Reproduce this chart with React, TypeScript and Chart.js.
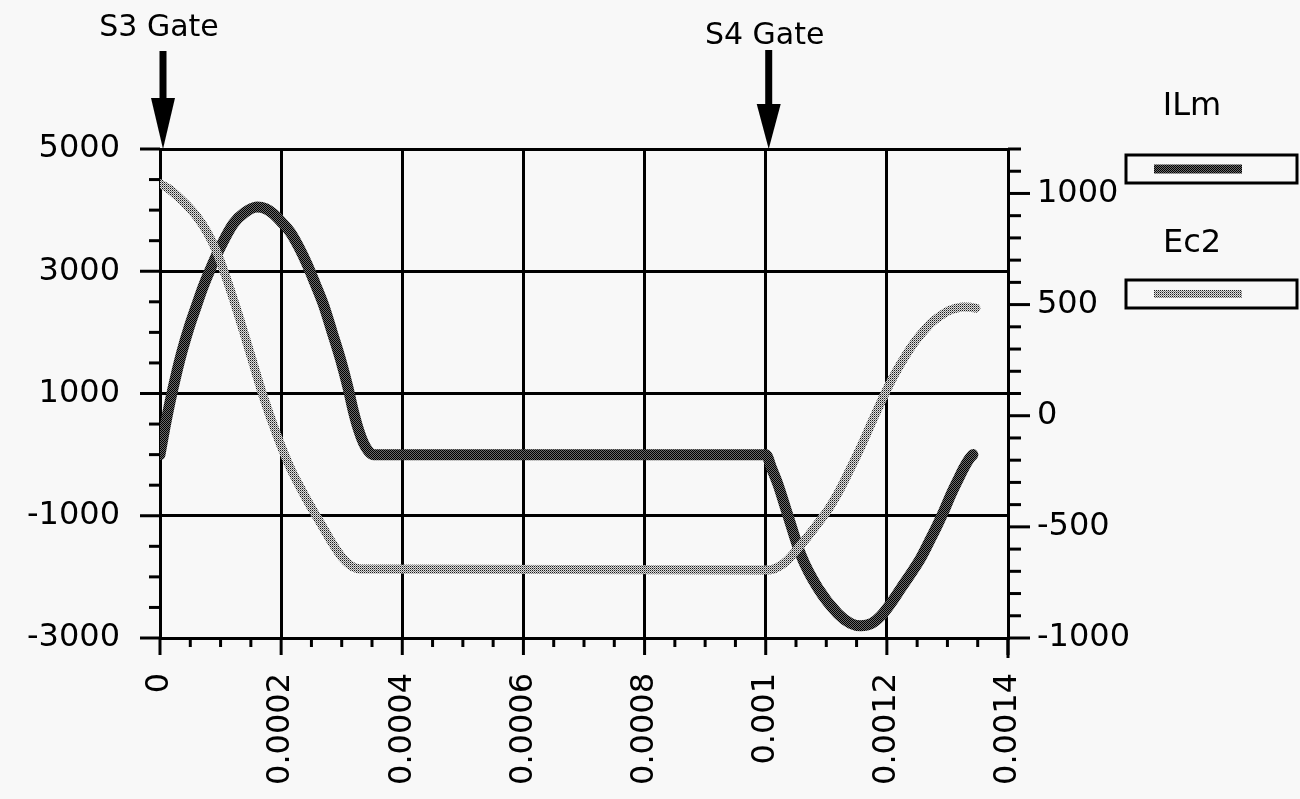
import React, { useEffect, useRef } from "react";
import { Chart, registerables } from "chart.js";

Chart.register(...registerables);

const FONT = '"DejaVu Sans", "Liberation Sans", sans-serif';

// ILm (left axis) — time in microseconds
const ilmTimeUs = [0, 8, 16.5, 27, 36, 48, 60, 71, 83, 100, 121, 140, 160, 175, 187, 200, 215, 230, 243, 256, 270, 284, 298, 310, 319, 328, 336, 344, 352, 1000, 1010, 1020, 1036, 1058, 1086, 1119, 1140, 1157, 1175, 1190, 1206, 1223, 1240, 1256, 1270, 1284, 1296, 1306, 1318, 1327, 1336, 1342];
const ilmValues = [0, 440, 860, 1320, 1675, 2080, 2430, 2740, 3030, 3400, 3777, 3960, 4050, 4020, 3940, 3810, 3640, 3380, 3110, 2800, 2450, 2010, 1560, 1110, 720, 400, 190, 60, 0, 0, -230, -480, -975, -1640, -2180, -2600, -2760, -2800, -2760, -2640, -2440, -2190, -1940, -1690, -1420, -1140, -880, -650, -400, -220, -70, 0];

// Ec2 (right axis) — time in microseconds
const ec2TimeUs = [0, 15, 30, 45, 61, 78, 94, 112, 131, 150, 169, 192, 215, 231, 246, 260, 274, 286, 300, 314, 323, 331, 1003, 1013, 1024, 1036, 1052, 1069, 1086, 1103, 1120, 1136, 1157, 1175, 1190, 1204, 1218, 1232, 1245, 1259, 1273, 1287, 1301, 1315, 1327, 1338, 1347];
const ec2Values = [1044, 1020, 985, 945, 895, 825, 735, 600, 440, 270, 100, -80, -234, -320, -395, -460, -525, -580, -635, -672, -685, -690, -694, -690, -675, -650, -600, -545, -485, -423, -345, -259, -140, -30, 60, 140, 211, 275, 328, 375, 417, 447, 471, 484, 489, 488, 484];

const seriesNames = ["ILm", "Ec2"];

const xTickValues = [0, 0.0002, 0.0004, 0.0006, 0.0008, 0.001, 0.0012, 0.0014];
const xTickLabels = ["0", "0.0002", "0.0004", "0.0006", "0.0008", "0.001", "0.0012", "0.0014"];
const leftTickValues = [-3000, -1000, 1000, 3000, 5000];
const leftTickLabels = ["-3000", "-1000", "1000", "3000", "5000"];
const rightTickValues = [-1000, -500, 0, 500, 1000];
const rightTickLabels = ["-1000", "-500", "0", "500", "1000"];

const gateNames = ["S3 Gate", "S4 Gate"];
const gateTimes = [0, 0.001];

function makePattern(ctx: CanvasRenderingContext2D, a: string, b: string, c: string, d: string) {
  const cv = document.createElement("canvas");
  cv.width = 2;
  cv.height = 2;
  const g = cv.getContext("2d")!;
  g.fillStyle = a; g.fillRect(0, 0, 1, 1);
  g.fillStyle = b; g.fillRect(1, 0, 1, 1);
  g.fillStyle = c; g.fillRect(0, 1, 1, 1);
  g.fillStyle = d; g.fillRect(1, 1, 1, 1);
  return ctx.createPattern(cv, "repeat")!;
}

const decorPlugin = {
  id: "decor",
  afterDraw(chart: any) {
    const { ctx, chartArea: ca, scales } = chart;
    const x = scales.x, yl = scales.y, yr = scales.y1;
    const line = (x1: number, y1: number, x2: number, y2: number) => {
      ctx.beginPath(); ctx.moveTo(x1, y1); ctx.lineTo(x2, y2); ctx.stroke();
    };
    ctx.save();
    ctx.strokeStyle = "#000";
    ctx.fillStyle = "#000";
    ctx.lineWidth = 3;
    ctx.lineCap = "butt";
    // x ticks
    for (let i = 0; i <= 28; i++) {
      const px = x.getPixelForValue(i * 0.00005);
      line(px, ca.bottom, px, ca.bottom + (i % 4 === 0 ? 17 : 9));
    }
    // left ticks
    for (let i = 0; i <= 16; i++) {
      const py = yl.getPixelForValue(-3000 + i * 500);
      line(ca.left - (i % 4 === 0 ? 20 : 11), py, ca.left, py);
    }
    // right ticks
    for (let i = 0; i <= 22; i++) {
      const py = yr.getPixelForValue(-1000 + i * 100);
      line(ca.right, py, ca.right + (i % 5 === 0 ? 22 : 13), py);
    }
    line(ca.right, ca.bottom, ca.right, ca.bottom + 20);

    // gate arrows
    const shaftTop = [51, 50];
    const headTop = [98, 104];
    const labelY = [28, 36];
    ctx.font = `30px ${FONT}`;
    ctx.textAlign = "center";
    ctx.textBaseline = "middle";
    gateTimes.forEach((t, i) => {
      const px = x.getPixelForValue(t) + 3;
      ctx.fillRect(px - 3.5, shaftTop[i], 7, headTop[i] - shaftTop[i] + 1);
      ctx.beginPath();
      ctx.moveTo(px - 12, headTop[i]);
      ctx.lineTo(px + 12, headTop[i]);
      ctx.lineTo(px, ca.top);
      ctx.closePath();
      ctx.fill();
      ctx.fillText(gateNames[i], px - 4, labelY[i]);
    });

    // legend
    const boxY = [155, 280];
    const textY = [107, 244];
    ctx.font = `32px ${FONT}`;
    chart.data.datasets.forEach((ds: any, i: number) => {
      ctx.fillStyle = "#000";
      ctx.fillText(ds.label, 1192, textY[i]);
      ctx.lineWidth = 3;
      ctx.strokeStyle = "#000";
      ctx.strokeRect(1126, boxY[i], 171, 28);
      ctx.strokeStyle = ds.borderColor;
      ctx.lineWidth = i === 0 ? 9 : 8;
      line(1154, boxY[i] + 14, 1242, boxY[i] + 14);
    });
    ctx.restore();
  },
};

export default function App() {
  const ref = useRef<HTMLCanvasElement>(null);
  useEffect(() => {
    const canvas = ref.current!;
    const ctx = canvas.getContext("2d")!;
    const patIlm = makePattern(ctx, "#000", "#6a6a6a", "#6a6a6a", "#000");
    const patEc2 = makePattern(ctx, "#1a1a1a", "#dddddd", "#dddddd", "#808080");
    const chart = new Chart(canvas, {
      type: "line",
      data: {
        datasets: [
          {
            label: seriesNames[0],
            data: ilmTimeUs.map((t, i) => ({ x: t * 1e-6, y: ilmValues[i] })),
            yAxisID: "y",
            borderColor: patIlm as any,
            borderWidth: 11,
            pointRadius: 0,
            cubicInterpolationMode: "monotone",
            borderCapStyle: "round",
            borderJoinStyle: "round",
            fill: false,
            order: 1,
          },
          {
            label: seriesNames[1],
            data: ec2TimeUs.map((t, i) => ({ x: t * 1e-6, y: ec2Values[i] })),
            yAxisID: "y1",
            borderColor: patEc2 as any,
            borderWidth: 9,
            pointRadius: 0,
            cubicInterpolationMode: "monotone",
            borderCapStyle: "round",
            borderJoinStyle: "round",
            fill: false,
            order: 0,
          },
        ],
      },
      options: {
        responsive: false,
        animation: false,
        devicePixelRatio: 1,
        layout: { padding: { top: 149, left: 0, right: 0, bottom: 0 } },
        plugins: { legend: { display: false }, tooltip: { enabled: false } },
        scales: {
          x: {
            type: "linear",
            min: 0,
            max: 0.0014,
            afterBuildTicks: (s: any) => { s.ticks = xTickValues.map((v) => ({ value: v })); },
            afterFit: (s: any) => { s.height = 161; },
            ticks: {
              callback: (_v: any, i: number) => xTickLabels[i],
              minRotation: 90,
              maxRotation: 90,
              autoSkip: false,
              padding: 35,
              color: "#000",
              font: { family: FONT, size: 32 },
            },
            grid: { color: "#000", lineWidth: 3, drawTicks: false },
            border: { display: true, color: "#000", width: 3 },
          },
          y: {
            type: "linear",
            position: "left",
            min: -3000,
            max: 5000,
            afterBuildTicks: (s: any) => { s.ticks = leftTickValues.map((v) => ({ value: v })); },
            afterFit: (s: any) => { s.width = 160; },
            ticks: {
              callback: (_v: any, i: number) => leftTickLabels[i],
              padding: 40,
              color: "#000",
              font: { family: FONT, size: 32 },
            },
            grid: { color: "#000", lineWidth: 3, drawTicks: false },
            border: { display: true, color: "#000", width: 3 },
          },
          y1: {
            type: "linear",
            position: "right",
            min: -1000,
            max: 1200,
            afterBuildTicks: (s: any) => { s.ticks = rightTickValues.map((v) => ({ value: v })); },
            afterFit: (s: any) => { s.width = 292; },
            ticks: {
              callback: (_v: any, i: number) => rightTickLabels[i],
              padding: 29,
              color: "#000",
              font: { family: FONT, size: 32 },
            },
            grid: { drawOnChartArea: false, drawTicks: false },
            border: { display: true, color: "#000", width: 3 },
          },
        },
      } as any,
      plugins: [decorPlugin],
    });
    return () => chart.destroy();
  }, []);
  return (
    <div style={{ position: "fixed", left: 0, top: 0, width: 1300, height: 799, background: "#f8f8f8" }}>
      <canvas ref={ref} width={1300} height={799} />
    </div>
  );
}
